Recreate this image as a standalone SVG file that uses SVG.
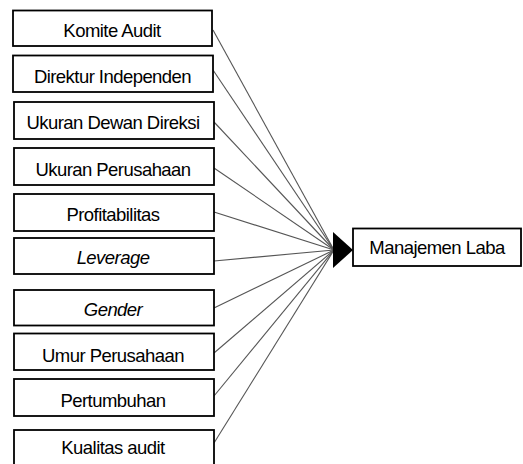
<svg xmlns="http://www.w3.org/2000/svg" width="523" height="464" viewBox="0 0 523 464">
<style>
.box{fill:#fff;stroke:#000;stroke-width:1.8}
.t{font-family:"Liberation Sans",Arial,sans-serif;font-size:18.5px;letter-spacing:-0.55px;text-anchor:middle;fill:#000}
.i{font-style:italic}
.c line{stroke:#555;stroke-width:1.1}
</style>
<rect width="523" height="464" fill="#fff"/>
<g id="connectors" class="c">
<line x1="213" y1="30" x2="334" y2="250"/>
<line x1="213" y1="70" x2="334" y2="250"/>
<line x1="214" y1="122" x2="334" y2="250"/>
<line x1="214" y1="168" x2="334" y2="250"/>
<line x1="214" y1="212" x2="334" y2="250"/>
<line x1="214" y1="261" x2="334" y2="250"/>
<line x1="214" y1="308" x2="334" y2="250"/>
<line x1="214" y1="353" x2="334" y2="250"/>
<line x1="214" y1="396" x2="334" y2="250"/>
<line x1="214" y1="443" x2="334" y2="250"/>
<polygon points="333,232 353,250 333,268" fill="#000"/>
</g>
<g id="n1"><rect class="box" x="13" y="10.5" width="199" height="35.5"/><text class="t" x="112" y="37">Komite Audit</text></g>
<g id="n2"><rect class="box" x="13" y="55.5" width="200" height="36.5"/><text class="t" x="112.5" y="82.5">Direktur Independen</text></g>
<g id="n3"><rect class="box" x="14" y="102" width="200" height="37"/><text class="t" x="113" y="129">Ukuran Dewan Direksi</text></g>
<g id="n4"><rect class="box" x="14" y="148" width="200" height="37"/><text class="t" x="113" y="176">Ukuran Perusahaan</text></g>
<g id="n5"><rect class="box" x="14" y="194" width="200" height="37"/><text class="t" x="113" y="221">Profitabilitas</text></g>
<g id="n6"><rect class="box" x="14" y="238" width="200" height="36"/><text class="t i" x="113" y="264">Leverage</text></g>
<g id="n7"><rect class="box" x="14" y="290" width="200" height="35.5"/><text class="t i" x="113" y="316">Gender</text></g>
<g id="n8"><rect class="box" x="14" y="333.5" width="200" height="36.5"/><text class="t" x="113" y="362">Umur Perusahaan</text></g>
<g id="n9"><rect class="box" x="14" y="379" width="200" height="37"/><text class="t" x="113" y="407">Pertumbuhan</text></g>
<g id="n10"><rect class="box" x="14" y="430" width="200" height="37"/><text class="t" x="113" y="454">Kualitas audit</text></g>
<g id="n11"><rect class="box" x="353" y="228.5" width="168" height="37.5"/><text class="t" x="437" y="254">Manajemen Laba</text></g>
</svg>
